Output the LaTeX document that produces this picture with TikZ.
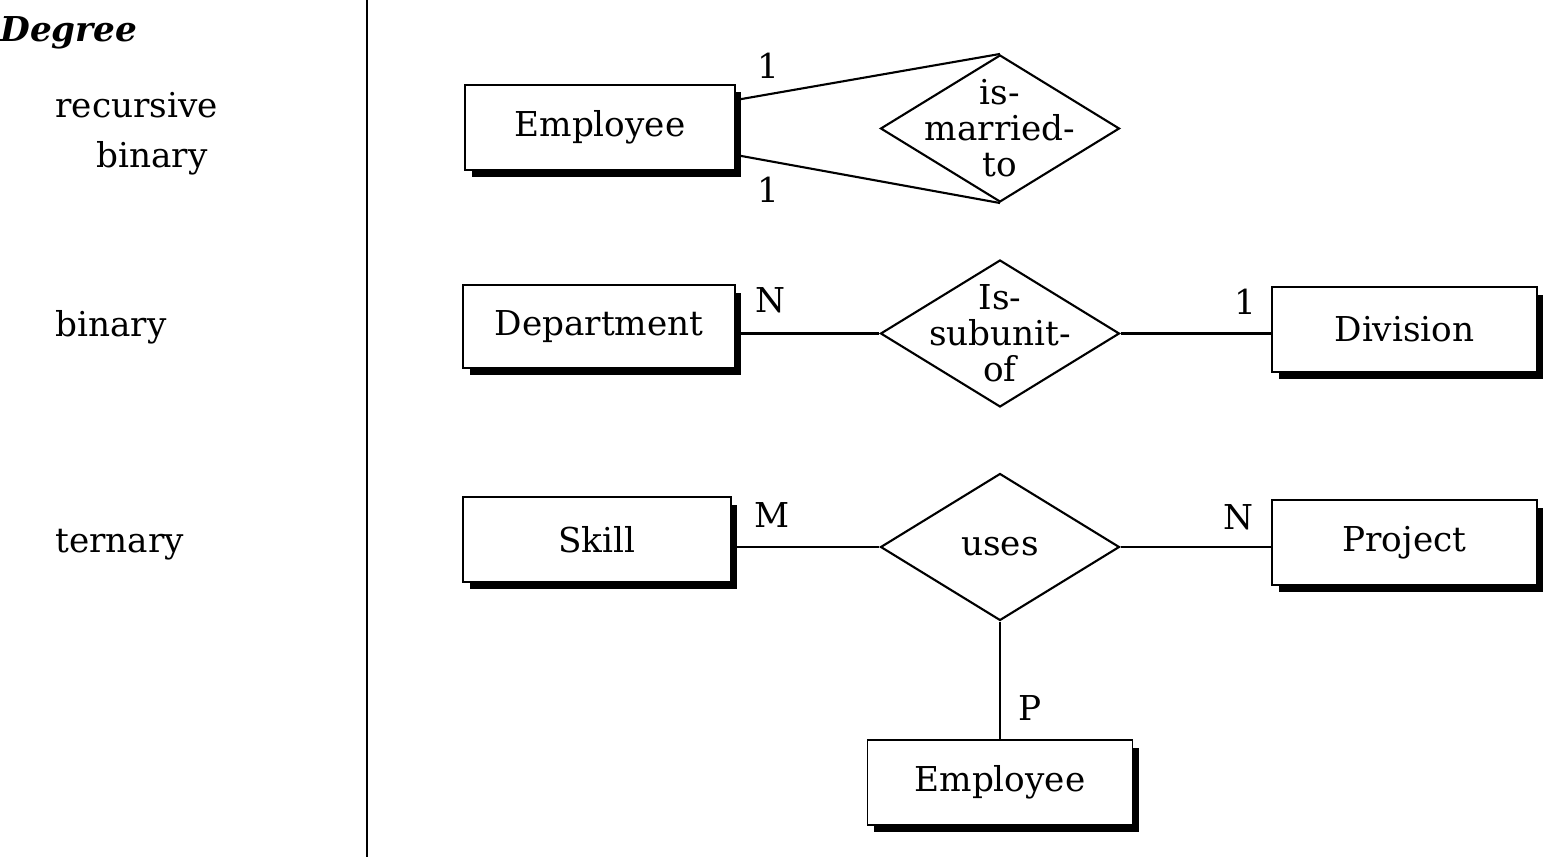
\documentclass[tikz,border=0pt]{standalone}
\usepackage{fontspec}
\setmainfont{DejaVu Serif}
\usetikzlibrary{shapes.geometric,shadows}
\begin{document}
\begin{tikzpicture}[x=0.02cm,y=-0.02cm,
  txt/.style={font=\fontsize{19.5}{24}\selectfont, inner sep=0pt},
  entity/.style={txt, draw, line width=1pt, fill=white,
    minimum height=1.7cm,
    drop shadow={shadow xshift=0.13cm, shadow yshift=-0.15cm, fill=black, opacity=1}},
  relation/.style={draw, line width=1.2pt, diamond, fill=white,
    minimum width=4.78cm, minimum height=2.94cm, inner sep=0pt},
  reltext/.style={txt, align=center, font=\fontsize{19.5}{20.5}\selectfont},
  link/.style={line width=1.2pt},
  card/.style={txt},
  degree/.style={txt, anchor=base west}]

\useasboundingbox (0,0) rectangle (1552,857);

% column of degree names and the divider
\node[degree, font=\fontsize{19.5}{24}\selectfont\bfseries\itshape] (hdr) at (0,42) {Degree};
\node[degree] (rec) at (55,118) {recursive};
\node[txt, anchor=base east] (recb) at (208,168) {binary};
\node[degree] (bin) at (55,337) {binary};
\node[degree] (ter) at (55,553) {ternary};
\draw[line width=1.2pt] (367,0) -- (367,857);

% recursive binary relationship
\node[entity, minimum width=5.4cm] (emp1) at (600,127.5) {Employee};
\node[relation, label={[reltext]center:is-\\married-\\to}] (married) at (1000,128.5) {};
\draw[link] ([yshift=0.55cm]emp1.east) -- (married.north);
\draw[link] ([yshift=-0.55cm]emp1.east) -- (married.south);
\node[card] (c1) at (768,66) {1};
\node[card] (c2) at (768,190) {1};

% binary relationship
\node[entity, minimum width=5.44cm, minimum height=1.66cm] (dept) at (599,326.5) {Department};
\node[relation, label={[reltext]center:Is-\\subunit-\\of}] (subunit) at (1000,333.5) {};
\node[entity, minimum width=5.3cm] (div) at (1404.5,329.5) {Division};
\draw[link] (dept.east |- subunit.west) -- (subunit.west);
\draw[link] (subunit.east) -- (div.west |- subunit.east);
\node[card] (c3) at (770,300) {N};
\node[card] (c4) at (1245,302) {1};

% ternary relationship
\node[entity, minimum width=5.36cm] (skill) at (597,539.5) {Skill};
\node[relation, label={[reltext]center:uses}] (uses) at (1000,547) {};
\node[entity, minimum width=5.3cm] (proj) at (1404.5,542.5) {Project};
\node[entity, minimum width=5.3cm] (emp2) at (1000,782.5) {Employee};
\draw[link] (skill.east |- uses.west) -- (uses.west);
\draw[link] (uses.east) -- (proj.west |- uses.east);
\draw[link] (uses.south) -- (emp2.north);
\node[card] (c5) at (772,515) {M};
\node[card] (c6) at (1238,517) {N};
\node[card] (c7) at (1030,708) {P};
\end{tikzpicture}
\end{document}
